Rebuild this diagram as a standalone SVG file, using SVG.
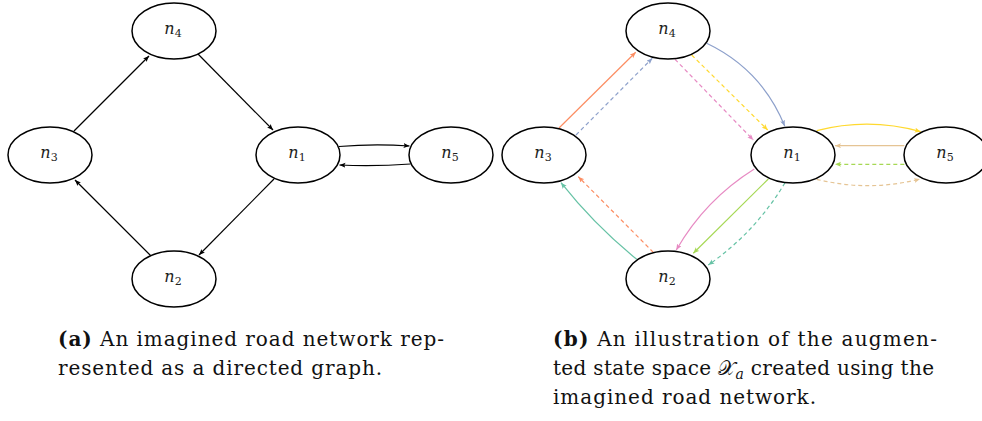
<svg xmlns="http://www.w3.org/2000/svg" width="982" height="421" viewBox="0 0 982 421">
  <style>
    .node ellipse { fill: #fff; stroke: #000; stroke-width: 1.5; }
    .lbl { font-family: "DejaVu Serif", serif; font-size: 16px; font-style: italic; fill: #222; text-anchor: middle; }
    .lbl tspan { font-style: normal; font-size: 11px; }
    .edge { fill: none; stroke-width: 1.2; }
    .dash { stroke-dasharray: 4 3; }
    .cap { font-family: "DejaVu Serif", serif; font-size: 20px; fill: #111; }
    .cap .b { font-weight: bold; }
  </style>
  <defs>
    <marker id="ah-k" markerUnits="userSpaceOnUse" markerWidth="7" markerHeight="6" refX="6" refY="2.5" orient="auto"><path d="M0,0 L6,2.5 L0,5 L1.3,2.5 Z" fill="#000"/></marker>
    <marker id="ah-teal" markerUnits="userSpaceOnUse" markerWidth="7" markerHeight="6" refX="6" refY="2.5" orient="auto"><path d="M0,0 L6,2.5 L0,5 L1.3,2.5 Z" fill="#66c2a5"/></marker>
    <marker id="ah-orange" markerUnits="userSpaceOnUse" markerWidth="7" markerHeight="6" refX="6" refY="2.5" orient="auto"><path d="M0,0 L6,2.5 L0,5 L1.3,2.5 Z" fill="#fc8d62"/></marker>
    <marker id="ah-blue" markerUnits="userSpaceOnUse" markerWidth="7" markerHeight="6" refX="6" refY="2.5" orient="auto"><path d="M0,0 L6,2.5 L0,5 L1.3,2.5 Z" fill="#8da0cb"/></marker>
    <marker id="ah-pink" markerUnits="userSpaceOnUse" markerWidth="7" markerHeight="6" refX="6" refY="2.5" orient="auto"><path d="M0,0 L6,2.5 L0,5 L1.3,2.5 Z" fill="#e78ac3"/></marker>
    <marker id="ah-green" markerUnits="userSpaceOnUse" markerWidth="7" markerHeight="6" refX="6" refY="2.5" orient="auto"><path d="M0,0 L6,2.5 L0,5 L1.3,2.5 Z" fill="#a6d854"/></marker>
    <marker id="ah-yellow" markerUnits="userSpaceOnUse" markerWidth="7" markerHeight="6" refX="6" refY="2.5" orient="auto"><path d="M0,0 L6,2.5 L0,5 L1.3,2.5 Z" fill="#ffd92f"/></marker>
    <marker id="ah-tan" markerUnits="userSpaceOnUse" markerWidth="7" markerHeight="6" refX="6" refY="2.5" orient="auto"><path d="M0,0 L6,2.5 L0,5 L1.3,2.5 Z" fill="#e5c494"/></marker>
  </defs>

  <!-- (a) road network connectors -->
  <g id="edges-a">
    <path class="edge" stroke="#000" marker-end="url(#ah-k)" d="M74,131 L149,56"/>
    <path class="edge" stroke="#000" marker-end="url(#ah-k)" d="M198,54 L273,130"/>
    <path class="edge" stroke="#000" marker-end="url(#ah-k)" d="M274,179 L199,255"/>
    <path class="edge" stroke="#000" marker-end="url(#ah-k)" d="M151,256 L75,180"/>
    <path class="edge" stroke="#000" marker-end="url(#ah-k)" d="M339,146.5 Q374,143.5 409.5,146"/>
    <path class="edge" stroke="#000" marker-end="url(#ah-k)" d="M410.5,164 Q375,166.5 339.5,165"/>
  </g>

  <!-- (a) nodes -->
  <g id="a-n4" class="node"><ellipse cx="174" cy="31" rx="42" ry="28"/><text class="lbl" x="173" y="34">n<tspan dy="3">4</tspan></text></g>
  <g id="a-n3" class="node"><ellipse cx="50" cy="155" rx="42" ry="28"/><text class="lbl" x="49" y="158">n<tspan dy="3">3</tspan></text></g>
  <g id="a-n1" class="node"><ellipse cx="298" cy="155" rx="42" ry="28"/><text class="lbl" x="297" y="158">n<tspan dy="3">1</tspan></text></g>
  <g id="a-n5" class="node"><ellipse cx="451" cy="155" rx="42" ry="28"/><text class="lbl" x="450" y="158">n<tspan dy="3">5</tspan></text></g>
  <g id="a-n2" class="node"><ellipse cx="174" cy="279" rx="42" ry="28"/><text class="lbl" x="173" y="282">n<tspan dy="3">2</tspan></text></g>

  <!-- (b) augmented state space connectors -->
  <g id="edges-b">
    <path class="edge" stroke="#fc8d62" marker-end="url(#ah-orange)" d="M559,128 L635.7,52.3"/>
    <path class="edge dash" stroke="#8da0cb" marker-end="url(#ah-blue)" d="M576,135 L652.3,58.3"/>
    <path class="edge dash" stroke="#e78ac3" marker-end="url(#ah-pink)" d="M675,59.3 L753.3,140"/>
    <path class="edge dash" stroke="#ffd92f" marker-end="url(#ah-yellow)" d="M691.7,55 L767.7,130"/>
    <path class="edge" stroke="#8da0cb" marker-end="url(#ah-blue)" d="M706.7,43.3 Q761.7,69.6 784.7,126"/>
    <path class="edge" stroke="#ffd92f" marker-end="url(#ah-yellow)" d="M816.7,130.7 Q868.7,117.2 920.7,131.7"/>
    <path class="edge" stroke="#e5c494" marker-end="url(#ah-tan)" d="M904.3,145.7 L835,145.7"/>
    <path class="edge dash" stroke="#a6d854" marker-end="url(#ah-green)" d="M904.3,164.3 L835,164.3"/>
    <path class="edge dash" stroke="#e5c494" marker-end="url(#ah-tan)" d="M816.7,179.3 Q868.5,192.2 920,179"/>
    <path class="edge" stroke="#e78ac3" marker-end="url(#ah-pink)" d="M754.3,169 Q705.1,199.8 676.3,250"/>
    <path class="edge" stroke="#a6d854" marker-end="url(#ah-green)" d="M768.3,179 L693.3,253.3"/>
    <path class="edge dash" stroke="#66c2a5" marker-end="url(#ah-teal)" d="M785,182.7 Q755.5,232.1 708.3,265"/>
    <path class="edge" stroke="#66c2a5" marker-end="url(#ah-teal)" d="M636.7,259.3 Q594.6,225.2 561,182.7"/>
    <path class="edge dash" stroke="#fc8d62" marker-end="url(#ah-orange)" d="M653.3,252.3 L578.3,176.7"/>
  </g>

  <!-- (b) nodes -->
  <g id="b-n4" class="node"><ellipse cx="668" cy="31" rx="42" ry="28"/><text class="lbl" x="667" y="34">n<tspan dy="3">4</tspan></text></g>
  <g id="b-n3" class="node"><ellipse cx="544" cy="155" rx="42" ry="28"/><text class="lbl" x="543" y="158">n<tspan dy="3">3</tspan></text></g>
  <g id="b-n1" class="node"><ellipse cx="793" cy="155" rx="42" ry="28"/><text class="lbl" x="792" y="158">n<tspan dy="3">1</tspan></text></g>
  <g id="b-n5" class="node"><ellipse cx="946" cy="155" rx="42" ry="28"/><text class="lbl" x="945" y="158">n<tspan dy="3">5</tspan></text></g>
  <g id="b-n2" class="node"><ellipse cx="668" cy="279" rx="42" ry="28"/><text class="lbl" x="667" y="282">n<tspan dy="3">2</tspan></text></g>

  <!-- captions -->
  <g id="caption-a">
    <text class="cap" x="58" y="346" textLength="386" lengthAdjust="spacing"><tspan class="b">(a)</tspan> An imagined road network rep-</text>
    <text class="cap" x="58" y="375" textLength="324" lengthAdjust="spacing">resented as a directed graph.</text>
  </g>
  <g id="caption-b">
    <text class="cap" x="553" y="346" textLength="384" lengthAdjust="spacing"><tspan class="b">(b)</tspan> An illustration of the augmen-</text>
    <text class="cap" x="553" y="375" textLength="381" lengthAdjust="spacing">ted state space 𝒳<tspan font-style="italic" font-size="14" dy="4">a</tspan><tspan dy="-4"> created using the</tspan></text>
    <text class="cap" x="553" y="404" textLength="263" lengthAdjust="spacing">imagined road network.</text>
  </g>
</svg>
